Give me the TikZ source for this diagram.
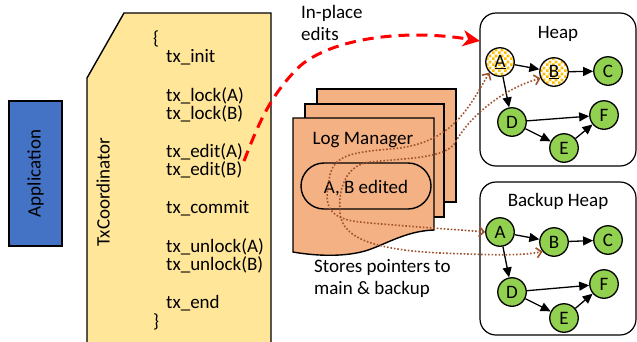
\documentclass[tikz,border=0pt]{standalone}
\usepackage{fontspec}
\setmainfont{Carlito}
\usetikzlibrary{arrows.meta,patterns,patterns.meta}
\definecolor{txyellow}{HTML}{FFE699}
\definecolor{appblue}{HTML}{4472C4}
\definecolor{docorange}{HTML}{F4B183}
\definecolor{nodegreen}{HTML}{92D050}
\definecolor{chk}{HTML}{FFC000}
\definecolor{ptrbrown}{HTML}{A0522D}
\tikzdeclarepattern{
  name=mychecker,
  type=uncolored,
  bottom left={(0pt,0pt)},
  top right={(6pt,6pt)},
  tile size={(6pt,6pt)},
  code={
    \fill (0pt,0pt) rectangle (3pt,3pt);
    \fill (3pt,3pt) rectangle (6pt,6pt);
  }
}
\tikzset{
  txt/.style={font=\fontsize{19}{21.7}\selectfont, inner sep=0pt},
  codeline/.style={txt, anchor=base west},
  gnode/.style={circle, draw, line width=1.3pt, fill=nodegreen, minimum size=28.5pt, inner sep=0pt, font=\fontsize{19}{20}\selectfont},
  chknode/.style={circle, draw, line width=1.3pt, preaction={fill=white}, pattern=mychecker, pattern color=chk, minimum size=28.5pt, inner sep=0pt, font=\fontsize{19}{20}\selectfont},
  edge/.style={line width=1.3pt, -{Triangle[length=10pt,width=9pt]}},
  heapbox/.style={draw, line width=1.2pt, rounded corners=16pt, minimum width=156pt, minimum height=153pt, inner sep=0pt},
  docshape/.style={draw, line width=1.4pt, fill=docorange},
  ptr/.style={draw=ptrbrown, line width=1.6pt, dash pattern=on 1.6pt off 1.9pt,
    {Straight Barb[length=5pt,width=10pt]}-{Straight Barb[length=5pt,width=10pt]}},
  reddash/.style={draw=red, line width=3pt, dash pattern=on 11pt off 7pt,
    -{Stealth[length=17pt,width=16pt,inset=5pt]}},
}
\begin{document}
\begin{tikzpicture}[x=1pt,y=-1pt]
\useasboundingbox (0,0) rectangle (637,341);
\clip (0,0) rectangle (637,341);

% Application
\node[draw, line width=1.4pt, fill=appblue, rotate=90, minimum width=145pt, minimum height=53pt, inner sep=0pt, txt] (app) at (35.5,173.5) {Application};

% TxCoordinator shape
\draw[line width=1.4pt, fill=txyellow] (87,78) -- (124,13) -- (271,13) -- (271,350) -- (87,350) -- cycle;
\node[txt, rotate=90] (txlabel) at (103,192) {TxCoordinator};

\node[codeline] (lb) at (153,44) {\{};
\node[codeline] (l1) at (166,62.2) {tx\_init};
\node[codeline] (l2) at (166,101.2) {tx\_lock(A)};
\node[codeline] (l3) at (166,119) {tx\_lock(B)};
\node[codeline] (l4) at (166,157.5) {tx\_edit(A)};
\node[codeline] (l5) at (166,175.5) {tx\_edit(B)};
\node[codeline] (l6) at (166,213.8) {tx\_commit};
\node[codeline] (l7) at (166,252.2) {tx\_unlock(A)};
\node[codeline] (l8) at (166,270.5) {tx\_unlock(B)};
\node[codeline] (l9) at (166,308.8) {tx\_end};
\node[codeline] (rb) at (153,327.2) {\}};

% Log manager documents
\draw[docshape] (317,89) rectangle (456,202);
\draw[docshape] (305,104) rectangle (444,217);
\draw[docshape] (293,118) -- (434,118) -- (434,230)
  .. controls (405,231) and (385,245) .. (365,251)
  .. controls (340,258) and (310,255) .. (293,252) -- cycle;
\node[txt, anchor=base] (logtxt) at (363,144) {Log Manager};
\node[draw, line width=1.4pt, rounded corners=23pt, minimum width=130pt, minimum height=46pt, inner sep=0pt, txt, text height=14pt, text depth=0pt] (pill) at (366,186) {A, B edited};

\node[txt, anchor=base west, align=left] (stores) at (314,294) {Stores pointers to\\main \& backup};
\node[txt, anchor=base west, align=left] (inplace) at (301,40) {In-place\\edits};

% Heaps
\node[heapbox] (heap) at (558,89.5) {};
\node[txt, anchor=base] (heaplbl) at (558,38.5) {Heap};
\node[heapbox] (bheap) at (558,258.5) {};
\node[txt, anchor=base] (bheaplbl) at (558,206.7) {Backup Heap};

\node[chknode] (hA) at (500,62) {\underline{A}};
\node[chknode] (hB) at (554,72) {\underline{B}};
\node[gnode] (hC) at (608,71) {C};
\node[gnode] (hD) at (512,122) {D};
\node[gnode] (hF) at (604,115) {F};
\node[gnode] (hE) at (564,148) {E};

\node[gnode] (bA) at (500,232) {A};
\node[gnode] (bB) at (554,242) {B};
\node[gnode] (bC) at (608,240) {C};
\node[gnode] (bD) at (512,292) {D};
\node[gnode] (bF) at (604,284) {F};
\node[gnode] (bE) at (564,318) {E};

\foreach \p in {h,b} {
  \draw[edge] (\p A) -- (\p B);
  \draw[edge] (\p B) -- (\p C);
  \draw[edge] (\p A) -- (\p D);
  \draw[edge] (\p D) -- (\p F);
  \draw[edge] (\p D) -- (\p E);
  \draw[edge] (\p E) -- (\p F);
}

% pointer curves
\draw[ptr] (hA.225)
  .. controls (470,105) and (455,140) .. (400,148)
  .. controls (360,152) and (335,152) .. (330,175)
  .. controls (325,200) and (322,218) .. (360,222)
  .. controls (400,226) and (450,229) .. (bA.west);
\draw[ptr] (hB.205)
  .. controls (505,88) and (470,115) .. (455,143)
  .. controls (445,158) and (410,158) .. (370,162)
  .. controls (345,165) and (338,190) .. (340,213)
  .. controls (342,240) and (380,250) .. (440,253)
  .. controls (490,255) and (520,256) .. (bB.220);

% in-place edit arrow
\coordinate (redstart) at (244,161);
\coordinate (redend) at (480,41);
\draw[reddash] (redstart) .. controls (258,125) and (270,95) .. (300,66)
  .. controls (330,40) and (400,28) .. (redend);
\end{tikzpicture}
\end{document}
